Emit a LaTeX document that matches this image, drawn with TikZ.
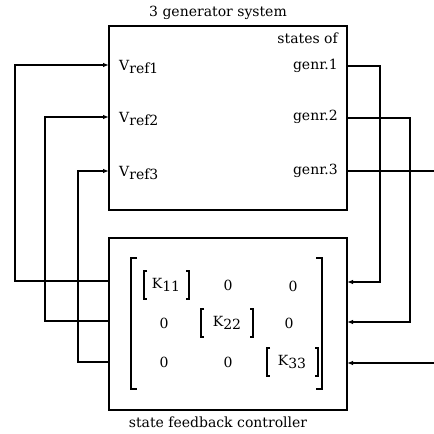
\documentclass[tikz,border=0pt]{standalone}
\usepackage{fontspec}
\setmainfont{DejaVu Serif}
\usetikzlibrary{arrows.meta}
\newcommand{\subsc}[1]{\raisebox{-0.5ex}{#1}}
\begin{document}
\begin{tikzpicture}[x=1pt,y=-1pt,
  box/.style={draw,line width=1.3pt},
  wire/.style={line width=1.1pt},
  arr/.style={wire,-{Latex[length=6pt,width=4.5pt]}},
  lbl/.style={font=\fontsize{14}{15}\selectfont,inner sep=1pt},
  ent/.style={font=\fontsize{14}{15}\selectfont,inner sep=0pt},
  brk/.style={line width=1.1pt}]
\useasboundingbox (0,0) rectangle (434,434);
% boxes
\path[box] (109,26) rectangle (347,210);
\path[box] (109,238) rectangle (347,410);
\coordinate (sysW1) at (109,65);
\coordinate (sysW2) at (109,117);
\coordinate (sysW3) at (109,171);
\coordinate (sysE1) at (347,66);
\coordinate (sysE2) at (347,118);
\coordinate (sysE3) at (347,171);
\coordinate (ctW1) at (109,281);
\coordinate (ctW2) at (109,321);
\coordinate (ctW3) at (109,362);
\coordinate (ctE1) at (347,282);
\coordinate (ctE2) at (347,322);
\coordinate (ctE3) at (347,363);
\coordinate (out3) at (434,171);
\coordinate (in3) at (434,363);
% titles
\node[lbl] (title) at (218,13) {3 generator system};
\node[lbl] (ctitle) at (218,422) {state feedback controller};
\node[lbl,anchor=east] (states) at (339,38) {states of};
\node[lbl,anchor=east] (g1) at (339,66) {genr.1};
\node[lbl,anchor=east] (g2) at (339,117) {genr.2};
\node[lbl,anchor=east] (g3) at (339,171) {genr.3};
\node[lbl,anchor=west] (v1) at (118,67) {V\subsc{ref1}};
\node[lbl,anchor=west] (v2) at (118,119) {V\subsc{ref2}};
\node[lbl,anchor=west] (v3) at (118,173) {V\subsc{ref3}};
% wires left
\draw[arr] (ctW1) -| (15,65) -- (sysW1);
\draw[arr] (ctW2) -| (45,117) -- (sysW2);
\draw[arr] (ctW3) -| (78,171) -- (sysW3);
% wires right
\draw[arr] (sysE1) -| (380,282) -- (ctE1);
\draw[arr] (sysE2) -| (410,322) -- (ctE2);
\draw[wire] (sysE3) -- (out3);
\draw[arr] (in3) -- (ctE3);
% matrix brackets
\draw[brk] (137,258) -- (131,258) -- (131,389) -- (137,389);
\draw[brk] (316,258) -- (322,258) -- (322,389) -- (316,389);
% entries
\node[ent] (k11) at (166,285) {K\subsc{11}};
\draw[brk] (147,271) -- (144,271) -- (144,299) -- (147,299);
\draw[brk] (186,271) -- (189,271) -- (189,299) -- (186,299);
\node[ent] (e12) at (228,285) {0};
\node[ent] (e13) at (293,286) {0};
\node[ent] (e21) at (164,323) {0};
\node[ent] (k22) at (227,323) {K\subsc{22}};
\draw[brk] (204,309) -- (201,309) -- (201,337) -- (204,337);
\draw[brk] (250,309) -- (253,309) -- (253,337) -- (250,337);
\node[ent] (e23) at (289,323) {0};
\node[ent] (e31) at (164,362) {0};
\node[ent] (e32) at (228,362) {0};
\node[ent] (k33) at (292,362) {K\subsc{33}};
\draw[brk] (270,348) -- (267,348) -- (267,376) -- (270,376);
\draw[brk] (315,348) -- (318,348) -- (318,376) -- (315,376);
\end{tikzpicture}
\end{document}
